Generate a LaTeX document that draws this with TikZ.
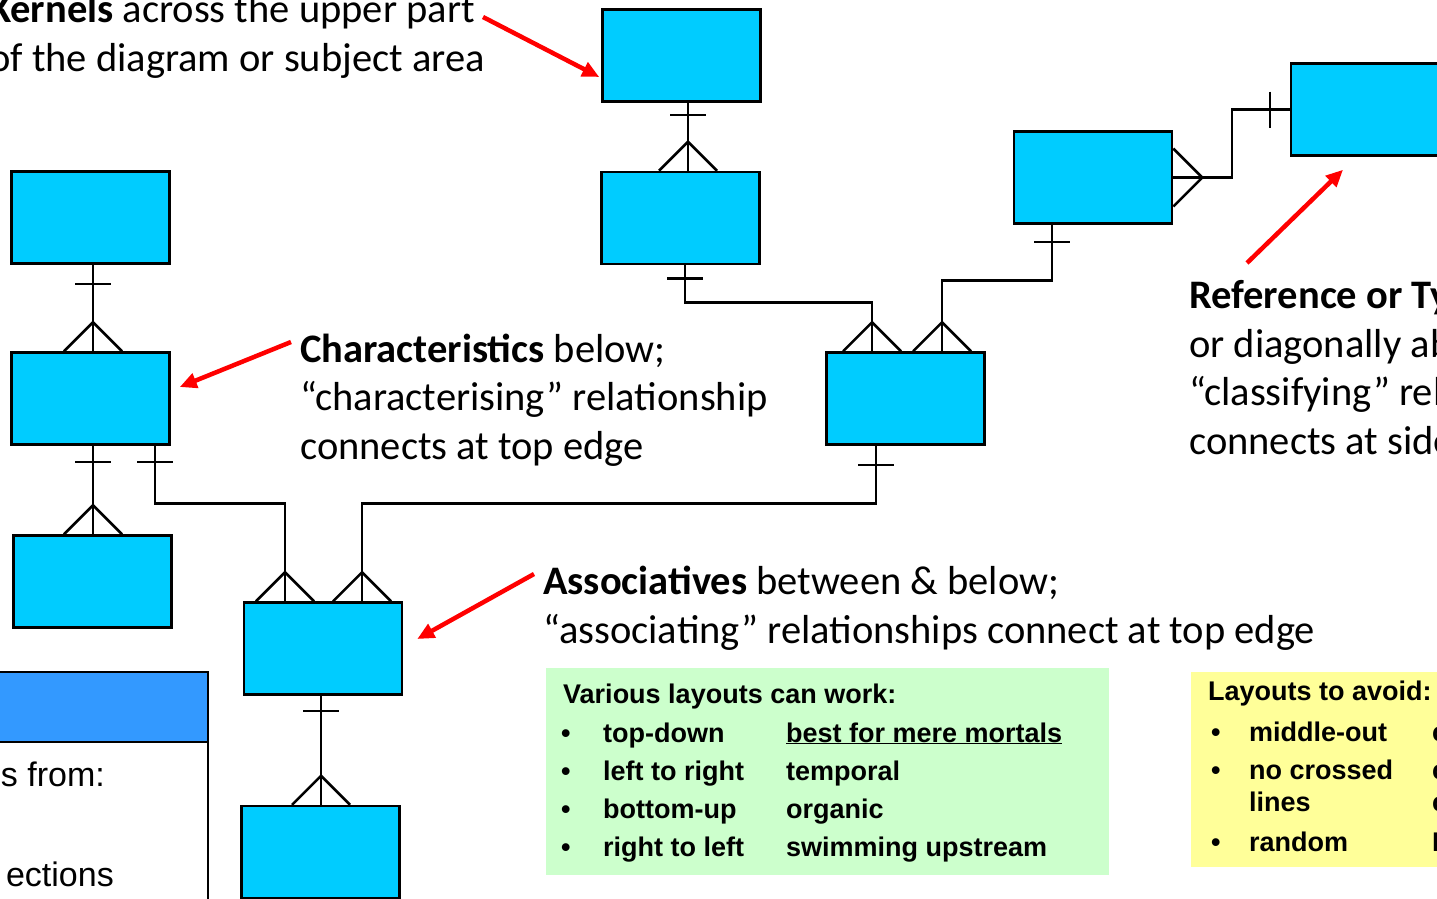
\documentclass[tikz,border=0pt]{standalone}
\usepackage{fontspec}
\setmainfont{Carlito}
\newfontfamily\arialfont{Liberation Sans}
\usetikzlibrary{arrows.meta,calc}

\definecolor{entblue}{HTML}{00CCFF}
\definecolor{hdrblue}{HTML}{3399FF}
\definecolor{goodbg}{HTML}{CCFFCC}
\definecolor{avoidbg}{HTML}{FFFF99}

\tikzset{
  ent/.style={draw,line width=2.5pt,fill=entblue,minimum width=158pt,minimum height=92pt,inner sep=0pt},
  rel/.style={line width=2.5pt},
  pointer/.style={line width=4.5pt,red,-{Triangle[length=17pt,width=15pt]}},
  say/.style={font=\fontsize{40.5}{48.5}\selectfont,align=left,anchor=base west,inner sep=0pt},
  listtxt/.style={font=\arialfont\bfseries\fontsize{27}{31}\selectfont,anchor=base west,inner sep=0pt},
  crowfoot/.pic={\draw[rel] (-29,0) -- (0,-29) -- (29,0);},
  onebar/.pic={\draw[rel] (-18,0) -- (18,0);}
}

\begin{document}
\begin{tikzpicture}[x=1pt,y=-1pt]
  \useasboundingbox (0,0) rectangle (1437,898);
  \clip (0,0) rectangle (1437,898);

  % entities
  \node[ent] (ker) at (681.5,55.5) {};
  \node[ent] (kerc) at (680.5,218) {};
  \node[ent] (lA) at (90.5,217.5) {};
  \node[ent] (lB) at (90.5,398.5) {};
  \node[ent] (lC) at (92.5,581.5) {};
  \node[ent] (asc) at (323,648.5) {};
  \node[ent] (ascb) at (320.5,852) {};
  \node[ent] (mid) at (905.5,398.5) {};
  \node[ent] (cls) at (1093,177.5) {};
  \node[ent] (ref) at (1370,109.5) {};

  % kernel and its characteristic
  \draw[rel] ([xshift=6.5]ker.south) -- ([xshift=7.5]kerc.north);
  \pic at ($(ker.south)+(6.5,12)$) {onebar};
  \pic at ([xshift=7.5]kerc.north) {crowfoot};

  % left column
  \draw[rel] ([xshift=2.5]lA.south) -- ([xshift=2.5]lB.north);
  \pic at ($(lA.south)+(2.5,19)$) {onebar};
  \pic at ([xshift=2.5]lB.north) {crowfoot};
  \draw[rel] ([xshift=2.5]lB.south) -- ([xshift=0.5]lC.north);
  \pic at ($(lB.south)+(2.5,16)$) {onebar};
  \pic at ([xshift=0.5]lC.north) {crowfoot};

  % associative between lB and mid
  \draw[rel] ([xshift=64.5]lB.south) |- ($(asc.north)+(-38,-98)$) -- ([xshift=-38]asc.north);
  \pic at ($(lB.south)+(64.5,16)$) {onebar};
  \pic at ([xshift=-38]asc.north) {crowfoot};
  \draw[rel] ([xshift=-29.5]mid.south) |- ($(asc.north)+(39,-98)$) -- ([xshift=39]asc.north);
  \pic at ($(mid.south)+(-29.5,19)$) {onebar};
  \pic at ([xshift=39]asc.north) {crowfoot};
  \draw[rel] ([xshift=-2]asc.south) -- ([xshift=0.5]ascb.north);
  \pic at ($(asc.south)+(-2,15)$) {onebar};
  \pic at ([xshift=0.5]ascb.north) {crowfoot};

  % mid: kerc and cls
  \draw[rel] ([xshift=4.5]kerc.south) |- ($(mid.north)+(-33.5,-49)$) -- ([xshift=-33.5]mid.north);
  \pic at ($(kerc.south)+(4.5,13)$) {onebar};
  \pic at ([xshift=-33.5]mid.north) {crowfoot};
  \draw[rel] ([xshift=-41]cls.south) |- ($(mid.north)+(36.5,-71)$) -- ([xshift=36.5]mid.north);
  \pic at ($(cls.south)+(-41,17)$) {onebar};
  \pic at ([xshift=36.5]mid.north) {crowfoot};

  % classifying at the side
  \draw[rel] (cls.east) -| ($(ref.west)+(-58,0)$) -- (ref.west);
  \pic[rotate=-90] at (cls.east) {crowfoot};
  \pic[rotate=-90] at ($(ref.west)+(-20,0)$) {onebar};

  % notes (base = last line)
  \node[say] (kertxt) at (-11,71) {\textbf{Kernels} across the upper part\\of the diagram or subject area};
  \node[say] (chrtxt) at (300,459) {\textbf{Characteristics} below;\\“characterising” relationship\\connects at top edge};
  \node[say] (asctxt) at (543,643) {\textbf{Associatives} between \& below;\\“associating” relationships connect at top edge};
  \node[say] (reftxt) at (1189,454) {\textbf{Reference or Type}\\or diagonally above\\“classifying” relationship\\connects at side};

  \coordinate (kerarr) at (483,17);
  \coordinate (chrarr) at (291,342);
  \coordinate (ascarr) at (534,574);
  \coordinate (refarr) at (1247,263);
  \draw[pointer] (kerarr) -- ($(ker.west)+(-2,21.5)$);
  \draw[pointer] (chrarr) -- ($(lB.east)+(9,-11.5)$);
  \draw[pointer] (ascarr) -- ($(asc.east)+(14,-9.5)$);
  \draw[pointer] (refarr) -- ($(ref.south)+(-27,13)$);

  % cut-off panel, bottom left
  \draw[line width=2.5pt,fill=hdrblue] (-5,672) rectangle (208,742);
  \draw[line width=2pt,fill=white] (-5,742) rectangle (208,910);
  \node[anchor=base east,inner sep=0pt,font=\arialfont\fontsize{34}{38}\selectfont] (frm) at (105,786) {s from:};
  \node[anchor=base east,inner sep=0pt,font=\arialfont\fontsize{34}{38}\selectfont] (ect) at (114,886) {ections};

  % layouts that work
  \fill[goodbg] (546,668) rectangle (1109,875);
  \node[listtxt] (goodhd) at (563,703) {Various layouts can work:};
  \foreach \a/\b [count=\i from 0] in {top-down/\underline{best for mere mortals},left to right/temporal,bottom-up/organic,right to left/swimming upstream}{
    \node[listtxt] (gb\i) at (561,742+38.3*\i) {\textbullet};
    \node[listtxt] (ga\i) at (603,742+38.3*\i) {\a};
    \node[listtxt] (gc\i) at (786,742+38.3*\i) {\b};
  }

  % layouts to avoid
  \fill[avoidbg] (1191,672) rectangle (1445,867);
  \node[listtxt] (badhd) at (1208,700) {Layouts to avoid:};
  \foreach \a/\b/\y [count=\i] in {middle-out/c/741,no crossed/c/779,random/N/851}{
    \node[listtxt] (bb\i) at (1211,\y) {\textbullet};
    \node[listtxt] (ba\i) at (1249,\y) {\a};
    \node[listtxt] (bc\i) at (1432,\y) {\b};
  }
  \node[listtxt] (ba4) at (1249,811) {lines};
  \node[listtxt] (bc4) at (1432,811) {c};
\end{tikzpicture}
\end{document}
